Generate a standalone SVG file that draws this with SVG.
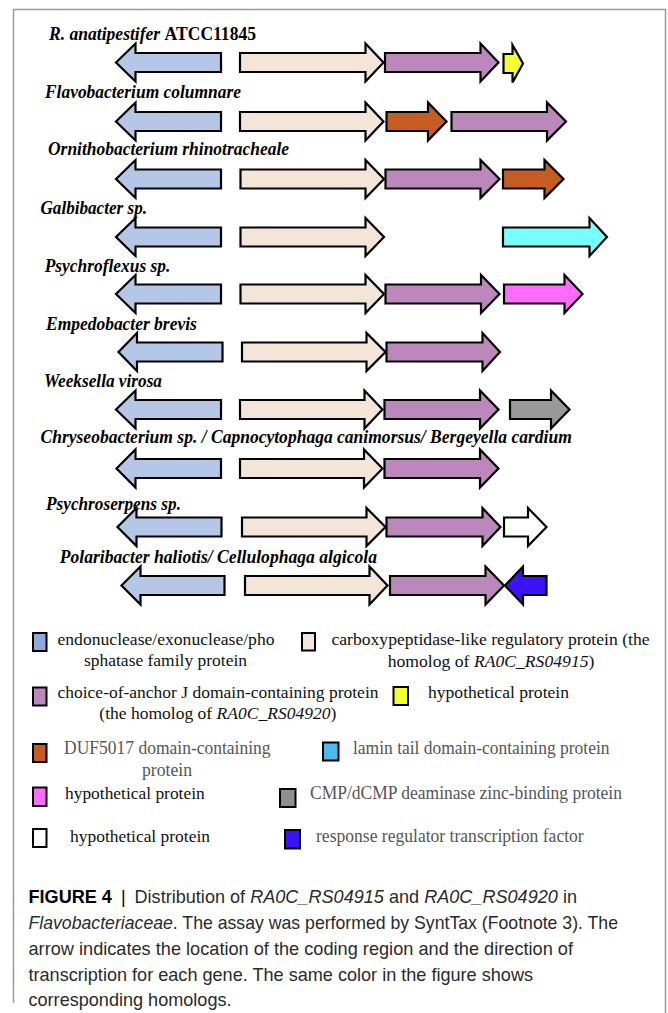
<svg xmlns="http://www.w3.org/2000/svg" width="668" height="1013" viewBox="0 0 668 1013">
<style>
.bg{fill:#fff}
.frame{fill:none;stroke:#9a9a9a;stroke-width:1.5}
.g{stroke:#000;stroke-width:2.2;stroke-linejoin:miter}
.b{fill:#b4c7e7}.e{fill:#f3e5d7}.p{fill:#bc88bb}.y{fill:#f2ff33}.o{fill:#c55c22}.c{fill:#77fffa}.k{fill:#ff6cfd}.r{fill:#999}.w{fill:#fff}.d{fill:#3a14f6}
.sq{stroke:#000;stroke-width:2}
.lab{font-family:"Liberation Serif",serif;font-size:18px;font-weight:bold;font-style:italic;fill:#000}
.lg{font-family:"Liberation Serif",serif;font-size:17.5px;fill:#111}
.lg2{font-family:"Liberation Serif",serif;font-size:18px;fill:#555}
.cap{font-family:"Liberation Sans",Arial,sans-serif;font-size:18.2px;fill:#2a2a2a}
</style>
<rect class="bg" x="0" y="0" width="668" height="1013"/>
<path class="frame" d="M13.5,1003 V9.5 H665.5 V1013"/>
<g id="connectors"/>

<g id="row1">
<text class="lab" x="49" y="39.5" textLength="207" lengthAdjust="spacingAndGlyphs">R. anatipestifer <tspan font-style="normal">ATCC11845</tspan></text>
<polygon class="g b" points="116,62.5 135.5,43.5 135.5,53 221,53 221,72 135.5,72 135.5,81.5"/>
<polygon class="g e" points="240,53 365.5,53 365.5,43.5 383.5,62.5 365.5,81.5 365.5,72 240,72"/>
<polygon class="g p" points="385,53 480.5,53 480.5,43.5 498.5,62.5 480.5,81.5 480.5,72 385,72"/>
<polygon class="g y" points="503.5,54 512.5,54 512.5,45 523,63.5 512.5,82.5 512.5,73 503.5,73"/>
</g>

<g id="row2">
<text class="lab" x="45" y="98.3" textLength="196" lengthAdjust="spacingAndGlyphs">Flavobacterium columnare</text>
<polygon class="g b" points="116,121.5 135.5,102.5 135.5,112 221,112 221,131 135.5,131 135.5,140.5"/>
<polygon class="g e" points="240,112 365.5,112 365.5,102.5 383.5,121.5 365.5,140.5 365.5,131 240,131"/>
<polygon class="g o" points="386.5,112 428,112 428,102.5 446.5,121.5 428,140.5 428,131 386.5,131"/>
<polygon class="g p" points="451.5,112 547,112 547,102.5 566,121.5 547,140.5 547,131 451.5,131"/>
</g>

<g id="row3">
<text class="lab" x="48" y="155" textLength="241" lengthAdjust="spacingAndGlyphs">Ornithobacterium rhinotracheale</text>
<polygon class="g b" points="116,179 135.5,160 135.5,169.5 221,169.5 221,188.5 135.5,188.5 135.5,198"/>
<polygon class="g e" points="240.5,169.5 365.5,169.5 365.5,160 384,179 365.5,198 365.5,188.5 240.5,188.5"/>
<polygon class="g p" points="385.5,169.5 480.5,169.5 480.5,160 499.5,179 480.5,198 480.5,188.5 385.5,188.5"/>
<polygon class="g o" points="503,169.5 544.5,169.5 544.5,160 563.5,179 544.5,198 544.5,188.5 503,188.5"/>
</g>

<g id="row4">
<text class="lab" x="40.5" y="214" textLength="106.5" lengthAdjust="spacingAndGlyphs">Galbibacter sp.</text>
<polygon class="g b" points="116,237 135.5,218 135.5,227.5 221,227.5 221,246.5 135.5,246.5 135.5,256"/>
<polygon class="g e" points="240.5,227.5 365.5,227.5 365.5,218 384,237 365.5,256 365.5,246.5 240.5,246.5"/>
<polygon class="g c" points="503,227.5 589.5,227.5 589.5,218 607,237 589.5,256 589.5,246.5 503,246.5"/>
</g>

<g id="row5">
<text class="lab" x="44.7" y="271.5" textLength="125.7" lengthAdjust="spacingAndGlyphs">Psychroflexus sp.</text>
<polygon class="g b" points="116,294 135.5,275 135.5,284.5 221,284.5 221,303.5 135.5,303.5 135.5,313"/>
<polygon class="g e" points="240.5,284.5 365.5,284.5 365.5,275 384,294 365.5,313 365.5,303.5 240.5,303.5"/>
<polygon class="g p" points="385.5,284.5 481,284.5 481,275 499.5,294 481,313 481,303.5 385.5,303.5"/>
<polygon class="g k" points="504,284.5 564.5,284.5 564.5,275 582.5,294 564.5,313 564.5,303.5 504,303.5"/>
</g>

<g id="row6">
<text class="lab" x="46" y="329.8" textLength="150.8" lengthAdjust="spacingAndGlyphs">Empedobacter brevis</text>
<polygon class="g b" points="118.5,352 137,333 137,342.5 222.5,342.5 222.5,361.5 137,361.5 137,371"/>
<polygon class="g e" points="242,342.5 366.5,342.5 366.5,333 385.5,352 366.5,371 366.5,361.5 242,361.5"/>
<polygon class="g p" points="386.5,342.5 482.5,342.5 482.5,333 500,352 482.5,371 482.5,361.5 386.5,361.5"/>
</g>

<g id="row7">
<text class="lab" x="44" y="386.5" textLength="118" lengthAdjust="spacingAndGlyphs">Weeksella virosa</text>
<polygon class="g b" points="116,409.5 135.5,390.5 135.5,400 221,400 221,419 135.5,419 135.5,428.5"/>
<polygon class="g e" points="240,400 364.5,400 364.5,390.5 382.5,409.5 364.5,428.5 364.5,419 240,419"/>
<polygon class="g p" points="384.5,400 480,400 480,390.5 498.5,409.5 480,428.5 480,419 384.5,419"/>
<polygon class="g r" points="510,400 551,400 551,390.5 569.5,409.5 551,428.5 551,419 510,419"/>
</g>

<g id="row8">
<text class="lab" x="40.5" y="443.3" textLength="531.3" lengthAdjust="spacingAndGlyphs">Chryseobacterium sp. / Capnocytophaga canimorsus/ Bergeyella cardium</text>
<polygon class="g b" points="116.5,468.5 135.5,449.5 135.5,459 221,459 221,478 135.5,478 135.5,487.5"/>
<polygon class="g e" points="240,459 364,459 364,449.5 382.5,468.5 364,487.5 364,478 240,478"/>
<polygon class="g p" points="384.5,459 480,459 480,449.5 498.5,468.5 480,487.5 480,478 384.5,478"/>
</g>

<g id="row9">
<text class="lab" x="46" y="509.8" textLength="135" lengthAdjust="spacingAndGlyphs">Psychroserpens sp.</text>
<polygon class="g b" points="117.5,527 136.5,508 136.5,517.5 221.5,517.5 221.5,536.5 136.5,536.5 136.5,546"/>
<polygon class="g e" points="242,517.5 366.5,517.5 366.5,508 385.5,527 366.5,546 366.5,536.5 242,536.5"/>
<polygon class="g p" points="386.5,517.5 482.5,517.5 482.5,508 500.5,527 482.5,546 482.5,536.5 386.5,536.5"/>
<polygon class="g w" points="504,517.5 528,517.5 528,508 546.5,527 528,546 528,536.5 504,536.5"/>
</g>

<g id="row10">
<text class="lab" x="59.7" y="563.2" textLength="317.3" lengthAdjust="spacingAndGlyphs">Polaribacter haliotis/ Cellulophaga algicola</text>
<polygon class="g b" points="121.5,585.5 140.5,566.5 140.5,576 224.5,576 224.5,595 140.5,595 140.5,604.5"/>
<polygon class="g e" points="245,576 369.5,576 369.5,566.5 387.5,585.5 369.5,604.5 369.5,595 245,595"/>
<polygon class="g p" points="390,576 485.5,576 485.5,566.5 504,585.5 485.5,604.5 485.5,595 390,595"/>
<polygon class="g d" points="505,585.5 523,566.5 523,576 546.5,576 546.5,595 523,595 523,604.5"/>
</g>

<g id="legend-endonuclease">
<rect class="sq" x="33" y="633" width="13.5" height="18" fill="#8eaadb"/>
<text class="lg" x="57.5" y="645" textLength="217" lengthAdjust="spacingAndGlyphs">endonuclease/exonuclease/pho</text>
<text class="lg" x="84" y="666" textLength="163" lengthAdjust="spacingAndGlyphs">sphatase family protein</text>
</g>
<g id="legend-carboxypeptidase">
<rect class="sq" x="302" y="633" width="13" height="17.5" fill="#f3e5d7"/>
<text class="lg" x="331.5" y="645" textLength="318" lengthAdjust="spacingAndGlyphs">carboxypeptidase-like regulatory protein (the</text>
<text class="lg" x="387.7" y="666.5" textLength="206.7" lengthAdjust="spacingAndGlyphs">homolog of <tspan font-style="italic">RA0C_RS04915</tspan>)</text>
</g>
<g id="legend-choice">
<rect class="sq" x="33" y="687.5" width="13.5" height="18" fill="#bc88bb"/>
<text class="lg" x="57.5" y="697.5" textLength="321" lengthAdjust="spacingAndGlyphs">choice-of-anchor J domain-containing protein</text>
<text class="lg" x="99.3" y="719" textLength="237" lengthAdjust="spacingAndGlyphs">(the homolog of <tspan font-style="italic">RA0C_RS04920</tspan>)</text>
</g>
<g id="legend-hyp-yellow">
<rect class="sq" x="393.5" y="687" width="14.5" height="18" fill="#f2ff2a"/>
<text class="lg" x="428" y="697.5" textLength="141" lengthAdjust="spacingAndGlyphs">hypothetical protein</text>
</g>
<g id="legend-duf5017">
<rect class="sq" x="33" y="744" width="13.5" height="18" fill="#c55c22"/>
<text class="lg2" x="64" y="754" textLength="206.6" lengthAdjust="spacingAndGlyphs">DUF5017 domain-containing</text>
<text class="lg2" x="142" y="775.5" textLength="50" lengthAdjust="spacingAndGlyphs">protein</text>
</g>
<g id="legend-lamin">
<rect class="sq" x="323" y="742.5" width="15.5" height="18" fill="#4db9ee"/>
<text class="lg2" x="353" y="754" textLength="256.5" lengthAdjust="spacingAndGlyphs">lamin tail domain-containing protein</text>
</g>
<g id="legend-hyp-pink">
<rect class="sq" x="33" y="787.5" width="13.5" height="18.5" fill="#ff6cfd"/>
<text class="lg" x="65" y="799" textLength="139.7" lengthAdjust="spacingAndGlyphs">hypothetical protein</text>
</g>
<g id="legend-cmp">
<rect class="sq" x="280" y="789" width="15.5" height="18" fill="#8f8f8f"/>
<text class="lg2" x="310" y="799" textLength="312" lengthAdjust="spacingAndGlyphs">CMP/dCMP deaminase zinc-binding protein</text>
</g>
<g id="legend-hyp-white">
<rect class="sq" x="33" y="829" width="13.5" height="18" fill="#fff"/>
<text class="lg" x="70" y="842" textLength="140" lengthAdjust="spacingAndGlyphs">hypothetical protein</text>
</g>
<g id="legend-response">
<rect class="sq" x="285" y="830" width="15" height="18.5" fill="#3a14f6"/>
<text class="lg2" x="316" y="842" textLength="267.7" lengthAdjust="spacingAndGlyphs">response regulator transcription factor</text>
</g>

<g id="caption">
<text class="cap" x="28.5" y="903" textLength="548.5" lengthAdjust="spacingAndGlyphs"><tspan font-weight="bold" fill="#000">FIGURE 4</tspan><tspan dx="9" fill="#000">|</tspan><tspan dx="9">Distribution of </tspan><tspan font-style="italic">RA0C_RS04915</tspan> and <tspan font-style="italic">RA0C_RS04920</tspan> in</text>
<text class="cap" x="28.5" y="929" textLength="589.5" lengthAdjust="spacingAndGlyphs"><tspan font-style="italic">Flavobacteriaceae</tspan>. The assay was performed by SyntTax (Footnote 3). The</text>
<text class="cap" x="28.5" y="955" textLength="544.5" lengthAdjust="spacingAndGlyphs">arrow indicates the location of the coding region and the direction of</text>
<text class="cap" x="28.5" y="981" textLength="504.5" lengthAdjust="spacingAndGlyphs">transcription for each gene. The same color in the figure shows</text>
<text class="cap" x="28.5" y="1006" textLength="203" lengthAdjust="spacingAndGlyphs">corresponding homologs.</text>
</g>
</svg>
